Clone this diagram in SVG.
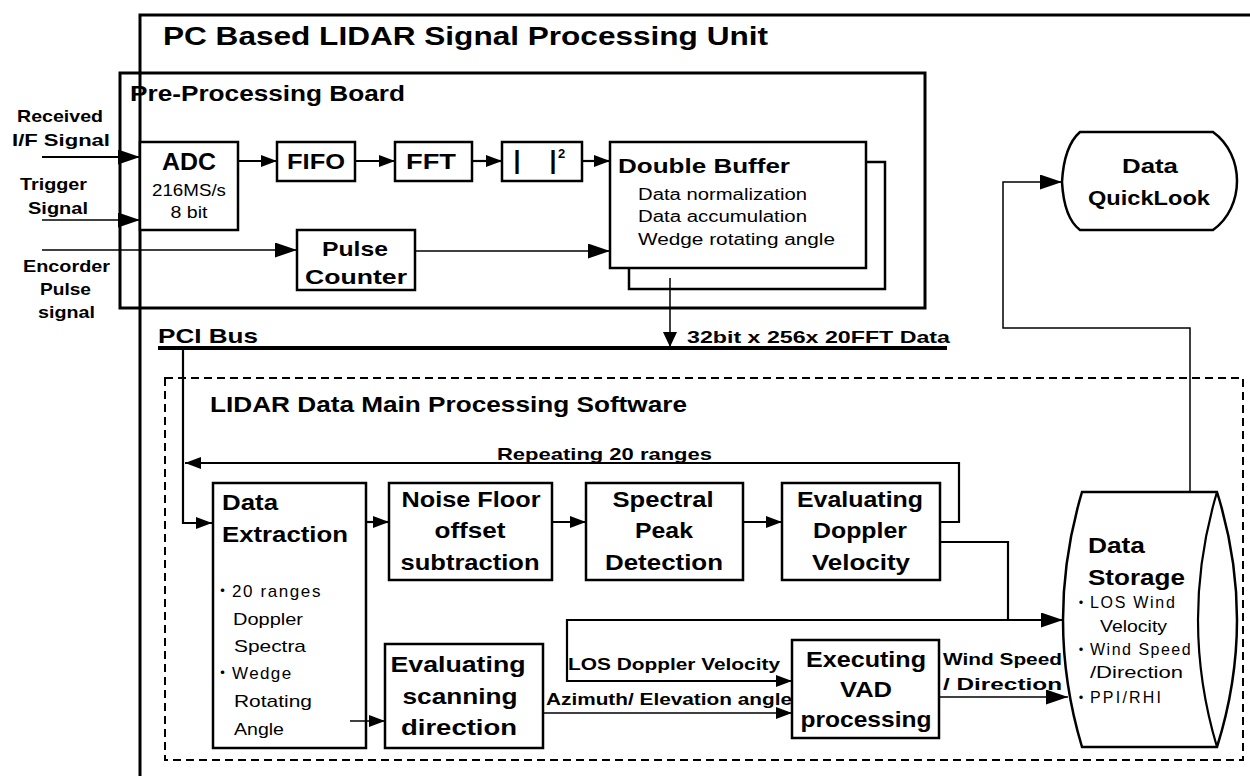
<svg xmlns="http://www.w3.org/2000/svg" width="1250" height="776" viewBox="0 0 1250 776">
<style>
.b{font-family:"Liberation Sans","Noto Sans CJK JP",sans-serif;font-weight:bold;fill:#000}
.r{font-family:"Liberation Sans","Noto Sans CJK JP",sans-serif;fill:#000}
.dot{font-family:"Noto Sans CJK JP",sans-serif}
.lat{font-family:"Liberation Sans",sans-serif}
.m{text-anchor:middle}
.box{fill:#fff;stroke:#000;stroke-width:2.5}
.frame{fill:none;stroke:#000;stroke-width:3}
.ln{fill:none;stroke:#000;stroke-width:2.2}
.thin{fill:none;stroke:#000;stroke-width:1.5}
</style>
<defs>
<marker id="a" viewBox="0 0 16 12" refX="16" refY="6" markerWidth="16" markerHeight="12" markerUnits="userSpaceOnUse" orient="auto"><path d="M0,0 L16,6 L0,12 z" fill="#000"/></marker>
<marker id="big" viewBox="0 0 22 15" refX="22" refY="7.5" markerWidth="22" markerHeight="15" markerUnits="userSpaceOnUse" orient="auto"><path d="M0,0 L22,7.5 L0,15 z" fill="#000"/></marker>
<marker id="sm" viewBox="0 0 15 14" refX="15" refY="7" markerWidth="15" markerHeight="14" markerUnits="userSpaceOnUse" orient="auto"><path d="M0,0 L15,7 L0,14 z" fill="#000"/></marker>
</defs>
<rect width="1250" height="776" fill="#fff"/>

<g id="pc-unit">
<path class="frame" d="M140,776 V15 H1252"/>
<text class="b" x="163" y="45" font-size="25" textLength="605" lengthAdjust="spacingAndGlyphs">PC Based LIDAR Signal Processing Unit</text>
</g>

<g id="pre-board">
<rect class="frame" x="120" y="73" width="805" height="235" fill="#fff"/>
<text class="b" x="130" y="101" font-size="22" textLength="275" lengthAdjust="spacingAndGlyphs">Pre-Processing Board</text>
</g>

<g id="inputs">
<text class="b" x="17" y="122" font-size="17" textLength="86" lengthAdjust="spacingAndGlyphs">Received</text>
<text class="b" x="12" y="146" font-size="17" textLength="98" lengthAdjust="spacingAndGlyphs">I/F  Signal</text>
<text class="b" x="20" y="190" font-size="17" textLength="67" lengthAdjust="spacingAndGlyphs">Trigger</text>
<text class="b" x="28" y="214" font-size="17" textLength="60" lengthAdjust="spacingAndGlyphs">Signal</text>
<text class="b" x="23" y="272" font-size="17" textLength="87" lengthAdjust="spacingAndGlyphs">Encorder</text>
<text class="b" x="40" y="295" font-size="17" textLength="51" lengthAdjust="spacingAndGlyphs">Pulse</text>
<text class="b" x="38" y="318" font-size="17" textLength="57" lengthAdjust="spacingAndGlyphs">signal</text>
</g>

<g id="adc">
<rect class="box" x="140" y="142" width="98" height="88"/>
<text class="b m" x="189" y="170" font-size="24" textLength="54" lengthAdjust="spacingAndGlyphs">ADC</text>
<text class="r m" x="189" y="196" font-size="17" textLength="74" lengthAdjust="spacingAndGlyphs">216MS/s</text>
<text class="r m" x="189" y="218" font-size="17" textLength="37" lengthAdjust="spacingAndGlyphs">8 bit</text>
</g>

<g id="fifo">
<rect class="box" x="277" y="142" width="78" height="39"/>
<text class="b m" x="316" y="169" font-size="22" textLength="58" lengthAdjust="spacingAndGlyphs">FIFO</text>
</g>

<g id="fft">
<rect class="box" x="395" y="142" width="77" height="39"/>
<text class="b m" x="431" y="169" font-size="22" textLength="50" lengthAdjust="spacingAndGlyphs">FFT</text>
</g>

<g id="abs2">
<rect class="box" x="502" y="142" width="80" height="39"/>
<text class="b m" x="517" y="169" font-size="25">|</text>
<text class="b m" x="553" y="169" font-size="25">|</text>
<text class="b" x="558" y="158" font-size="13">2</text>
</g>

<g id="double-buffer">
<rect class="box" x="629" y="162" width="256" height="127"/>
<rect class="box" x="610" y="142" width="256" height="126"/>
<text class="b" x="618" y="173" font-size="21" textLength="172" lengthAdjust="spacingAndGlyphs">Double Buffer</text>
<text class="r" x="638" y="200" font-size="16" textLength="169" lengthAdjust="spacingAndGlyphs">Data normalization</text>
<text class="r" x="638" y="222" font-size="16" textLength="169" lengthAdjust="spacingAndGlyphs">Data accumulation</text>
<text class="r" x="638" y="245" font-size="16" textLength="197" lengthAdjust="spacingAndGlyphs">Wedge rotating  angle</text>
</g>

<g id="pulse-counter">
<rect class="box" x="297" y="230" width="118" height="60"/>
<text class="b m" x="355" y="256" font-size="21" textLength="66" lengthAdjust="spacingAndGlyphs">Pulse</text>
<text class="b m" x="356" y="284" font-size="21" textLength="102" lengthAdjust="spacingAndGlyphs">Counter</text>
</g>

<g id="pci-bus">
<line x1="158" y1="348" x2="947" y2="348" stroke="#000" stroke-width="4"/>
<text class="b" x="158" y="343" font-size="21" textLength="100" lengthAdjust="spacingAndGlyphs">PCI Bus</text>
<text class="b" x="687" y="343" font-size="17" textLength="263" lengthAdjust="spacingAndGlyphs">32bit x 256x 20FFT Data</text>
</g>

<g id="software">
<rect x="165" y="378" width="1078" height="382" fill="none" stroke="#000" stroke-width="2" stroke-dasharray="8,5"/>
<text class="b" x="210" y="412" font-size="22" textLength="477" lengthAdjust="spacingAndGlyphs">LIDAR Data Main Processing Software</text>
<text class="b" x="497" y="460" font-size="17" textLength="215" lengthAdjust="spacingAndGlyphs">Repeating 20 ranges</text>
</g>

<g id="data-extraction">
<rect class="box" x="213" y="483" width="153" height="265"/>
<text class="b" x="222" y="510" font-size="22" textLength="56" lengthAdjust="spacingAndGlyphs">Data</text>
<text class="b" x="222" y="542" font-size="22" textLength="126" lengthAdjust="spacingAndGlyphs">Extraction</text>
<text class="r" x="214" y="597" font-size="17"><tspan class="dot">・</tspan><tspan class="lat" x="232" letter-spacing="1.6">20 ranges</tspan></text>
<text class="r" x="233" y="625" font-size="17" textLength="70" lengthAdjust="spacingAndGlyphs">Doppler</text>
<text class="r" x="234" y="652" font-size="17" textLength="72" lengthAdjust="spacingAndGlyphs">Spectra</text>
<text class="r" x="214" y="679" font-size="17"><tspan class="dot">・</tspan><tspan class="lat" x="232" letter-spacing="1.4">Wedge</tspan></text>
<text class="r" x="234" y="707" font-size="17" textLength="78" lengthAdjust="spacingAndGlyphs">Rotating</text>
<text class="r" x="234" y="735" font-size="17" textLength="50" lengthAdjust="spacingAndGlyphs">Angle</text>
</g>

<g id="noise-floor">
<rect class="box" x="389" y="483" width="163" height="97"/>
<text class="b m" x="471" y="507" font-size="22" textLength="139" lengthAdjust="spacingAndGlyphs">Noise Floor</text>
<text class="b m" x="470" y="538" font-size="22" textLength="71" lengthAdjust="spacingAndGlyphs">offset</text>
<text class="b m" x="470" y="570" font-size="22" textLength="139" lengthAdjust="spacingAndGlyphs">subtraction</text>
</g>

<g id="spectral-peak">
<rect class="box" x="586" y="483" width="157" height="97"/>
<text class="b m" x="663" y="507" font-size="22" textLength="101" lengthAdjust="spacingAndGlyphs">Spectral</text>
<text class="b m" x="664" y="538" font-size="22" textLength="58" lengthAdjust="spacingAndGlyphs">Peak</text>
<text class="b m" x="664" y="570" font-size="22" textLength="118" lengthAdjust="spacingAndGlyphs">Detection</text>
</g>

<g id="eval-doppler">
<rect class="box" x="782" y="483" width="158" height="97"/>
<text class="b m" x="860" y="507" font-size="22" textLength="126" lengthAdjust="spacingAndGlyphs">Evaluating</text>
<text class="b m" x="860" y="538" font-size="22" textLength="94" lengthAdjust="spacingAndGlyphs">Doppler</text>
<text class="b m" x="861" y="570" font-size="22" textLength="98" lengthAdjust="spacingAndGlyphs">Velocity</text>
</g>

<g id="eval-scanning">
<rect class="box" x="385" y="644" width="158" height="104"/>
<text class="b m" x="458" y="672" font-size="22" textLength="135" lengthAdjust="spacingAndGlyphs">Evaluating</text>
<text class="b m" x="460" y="704" font-size="22" textLength="115" lengthAdjust="spacingAndGlyphs">scanning</text>
<text class="b m" x="459" y="735" font-size="22" textLength="116" lengthAdjust="spacingAndGlyphs">direction</text>
</g>

<g id="vad">
<rect class="box" x="792" y="640" width="147" height="98"/>
<text class="b m" x="866" y="667" font-size="22" textLength="120" lengthAdjust="spacingAndGlyphs">Executing</text>
<text class="b m" x="866" y="697" font-size="22" textLength="52" lengthAdjust="spacingAndGlyphs">VAD</text>
<text class="b m" x="866" y="727" font-size="22" textLength="131" lengthAdjust="spacingAndGlyphs">processing</text>
</g>

<g id="data-storage">
<path class="box" d="M1082,492 Q1044,620 1082,747 L1217,747 Q1257,620 1217,492 Z"/>
<path class="ln" d="M1217,492 Q1179,620 1217,747"/>
<text class="b" x="1088" y="553" font-size="22" textLength="57" lengthAdjust="spacingAndGlyphs">Data</text>
<text class="b" x="1088" y="585" font-size="22" textLength="97" lengthAdjust="spacingAndGlyphs">Storage</text>
<text class="r" x="1073" y="608" font-size="16"><tspan class="dot">・</tspan><tspan class="lat" x="1090" letter-spacing="1.7">LOS Wind</tspan></text>
<text class="r" x="1100" y="632" font-size="16" textLength="67" lengthAdjust="spacingAndGlyphs">Velocity</text>
<text class="r" x="1073" y="655" font-size="16"><tspan class="dot">・</tspan><tspan class="lat" x="1090" letter-spacing="1.5">Wind Speed</tspan></text>
<text class="r" x="1090" y="678" font-size="16" textLength="93" lengthAdjust="spacingAndGlyphs">/Direction</text>
<text class="r" x="1073" y="703" font-size="16"><tspan class="dot">・</tspan><tspan class="lat" x="1090" letter-spacing="2.2">PPI/RHI</tspan></text>
</g>

<g id="quicklook">
<path class="box" d="M1080,132 L1213,132 C1245,155 1245,207 1213,230 L1080,230 Q1064,218 1062,182 Q1064,146 1080,132 Z"/>
<text class="b m" x="1150" y="173" font-size="21" textLength="56" lengthAdjust="spacingAndGlyphs">Data</text>
<text class="b m" x="1149" y="205" font-size="21" textLength="122" lengthAdjust="spacingAndGlyphs">QuickLook</text>
</g>

<g id="connectors">
<path class="ln" d="M42,157 H140" marker-end="url(#big)"/>
<path class="thin" d="M42,220 H140" marker-end="url(#big)"/>
<path class="thin" d="M42,250 H297" marker-end="url(#big)"/>
<path class="ln" d="M238,161 H277" marker-end="url(#a)"/>
<path class="ln" d="M355,161 H395" marker-end="url(#a)"/>
<path class="ln" d="M472,161 H502" marker-end="url(#a)"/>
<path class="ln" d="M582,161 H610" marker-end="url(#a)"/>
<path class="thin" d="M415,251 H610" marker-end="url(#big)"/>
<path class="thin" d="M670,278 V347" marker-end="url(#sm)"/>
<path class="ln" d="M183,348 V523 H212" marker-end="url(#a)"/>
<path class="ln" d="M940,522 H959 V463 H185" marker-end="url(#a)"/>
<path class="ln" d="M366,522 H389" marker-end="url(#a)"/>
<path class="ln" d="M552,522 H586" marker-end="url(#a)"/>
<path class="ln" d="M743,522 H782" marker-end="url(#a)"/>
<path class="ln" d="M940,542 H1008 V620 H1063" marker-end="url(#big)"/>
<path class="ln" d="M1008,620 H567 V681 H792" marker-end="url(#a)"/>
<path class="thin" d="M350,721 H385" marker-end="url(#a)"/>
<path class="thin" d="M543,713 H792" marker-end="url(#a)"/>
<path class="thin" d="M939,697 H1068" marker-end="url(#big)"/>
<path class="thin" d="M1190,492 V328 H1003 V182 H1062" marker-end="url(#big)"/>
<text class="b" x="568" y="670" font-size="16" textLength="212" lengthAdjust="spacingAndGlyphs">LOS Doppler Velocity</text>
<text class="b" x="546" y="705" font-size="16" textLength="246" lengthAdjust="spacingAndGlyphs">Azimuth/ Elevation angle</text>
<text class="b" x="943" y="665" font-size="17" textLength="119" lengthAdjust="spacingAndGlyphs">Wind Speed</text>
<text class="b" x="943" y="690" font-size="17" textLength="119" lengthAdjust="spacingAndGlyphs">/ Direction</text>
</g>
</svg>
